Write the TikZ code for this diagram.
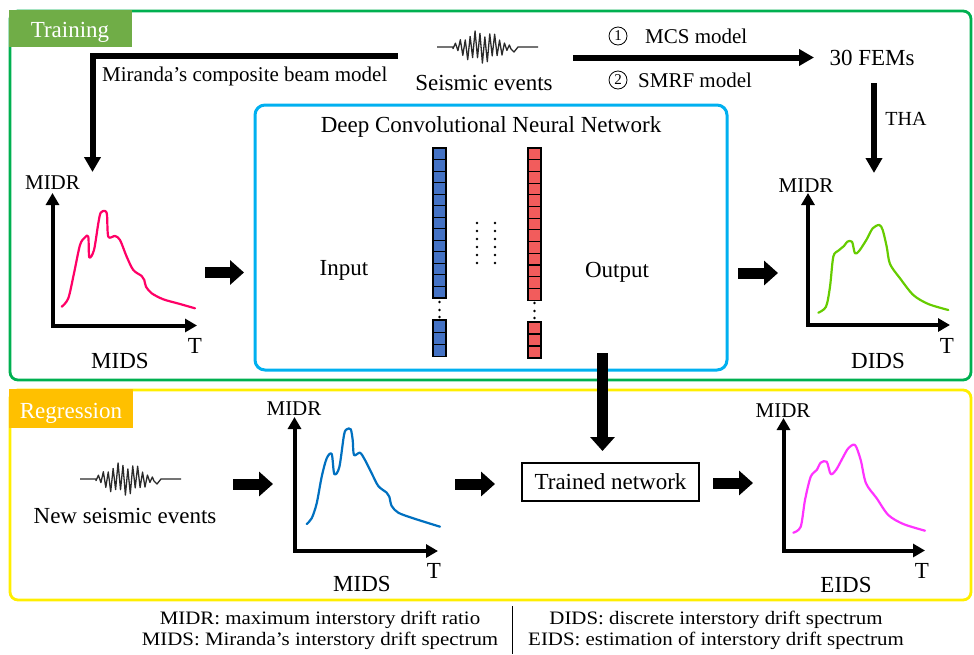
\documentclass[tikz,border=0pt]{standalone}
\usepackage{fontspec}
\setmainfont{Liberation Serif}
\newfontfamily\legendfont[FakeStretch=1.1]{Liberation Serif}
\usetikzlibrary{arrows.meta}
\definecolor{boxgreen}{HTML}{00B050}
\definecolor{tabgreen}{HTML}{70AD47}
\definecolor{boxyellow}{HTML}{FFEE00}
\definecolor{taborange}{HTML}{FFC000}
\definecolor{boxblue}{HTML}{00B0F0}
\definecolor{cellblue}{HTML}{4472C4}
\definecolor{cellred}{HTML}{F25C5C}
\definecolor{cpink}{HTML}{FF0066}
\definecolor{cgreen}{HTML}{66CC00}
\definecolor{cblue}{HTML}{0070C0}
\definecolor{cmag}{HTML}{FF33FF}
\definecolor{wavegray}{HTML}{2A2A2A}
\begin{document}
\begin{tikzpicture}[x=1pt,y=-1pt,
  txt/.style={font=\fontsize{23}{27}\selectfont, inner sep=0pt, anchor=base},
  mid/.style={font=\fontsize{21}{25}\selectfont, inner sep=0pt, anchor=base},
  leg/.style={font=\legendfont\fontsize{19}{23}\selectfont, inner sep=0pt, anchor=base},
  tabtxt/.style={font=\fontsize{23}{27}\selectfont, inner sep=0pt, anchor=base, text=white},
  fatarrow/.style={line width=6pt, line join=miter, -{Triangle[length=15pt,width=16pt]}},
  axes/.style={line width=4pt, line join=miter, {Triangle[length=12pt,width=13pt]}-{Triangle[length=12pt,width=13pt]}},
  blockarr/.style={line width=11pt, -{Triangle[length=14pt,width=24pt]}},
  spec/.style={line width=2.2pt, line join=round, line cap=round},
  cellb/.style={fill=cellblue, draw=black, line width=1.1pt},
  cellr/.style={fill=cellred, draw=black, line width=1.1pt},
  wavestyle/.style={draw=wavegray, line width=1.3pt, line join=round},
  wave/.pic={\draw[wavestyle] (-50,0) -- (-34,0) -- plot[domain=0:23, samples=24] ({-34+\x*2.45},{cos(\x*180)*(2+15*sin(\x*7.8))*(0.8+0.2*sin(\x*131))}) -- (24,2) -- (27,5) -- (31,0) -- (51,0);}
]
\useasboundingbox (0,0) rectangle (974,654);

% ---------- frames ----------
\node[draw=boxgreen, line width=2.8pt, rounded corners=8pt, minimum width=961pt, minimum height=369pt, inner sep=0pt] (trainbox) at (490.5,195.5) {};
\fill[tabgreen] (8.6,10) rectangle (132,47);
\node[tabtxt] (traintab) at (70,37) {Training};

\node[draw=boxyellow, line width=2.8pt, rounded corners=8pt, minimum width=961pt, minimum height=210pt, inner sep=0pt] (regbox) at (490.5,495) {};
\fill[taborange] (8.6,389) rectangle (133,428);
\node[tabtxt] (regtab) at (71,418) {Regression};

\node[draw=boxblue, line width=3pt, rounded corners=10pt, minimum width=472pt, minimum height=265pt, inner sep=0pt] (dcnn) at (491,237.5) {};
\node[txt] (dcnnlbl) at (491,132) {Deep Convolutional Neural Network};

% ---------- top row ----------
\pic (wave1) at (487,47) {wave};
\node[txt] (seis) at (484,90) {Seismic events};

\coordinate (mirstart) at (398,55.5);
\coordinate (mirend) at (92.5,172);
\draw[fatarrow] (mirstart) -| (mirend);
\node[mid, anchor=base west] (mirlbl) at (102,81.5) {Miranda’s composite beam model};

\coordinate (mcsstart) at (573,57.5);
\coordinate (mcsend) at (814,57.5);
\draw[fatarrow] (mcsstart) -- (mcsend);
\node[circle, draw, line width=0.8pt, minimum size=18pt, inner sep=0pt, font=\fontsize{15}{15}\selectfont] (c1) at (618,36) {1};
\node[mid, anchor=base west] (mcs) at (645,43) {MCS model};
\node[circle, draw, line width=0.8pt, minimum size=18pt, inner sep=0pt, font=\fontsize{15}{15}\selectfont] (c2) at (618,80) {2};
\node[mid, anchor=base west] (smrf) at (638,87) {SMRF model};

\node[txt] (fems) at (872,65) {30 FEMs};
\coordinate (thastart) at (874,83);
\coordinate (thaend) at (874,173);
\draw[fatarrow] (thastart) -- (thaend);
\node[font=\fontsize{20}{24}\selectfont, inner sep=0pt, anchor=base] (tha) at (906,125) {THA};

% ---------- MIDS plot (training) ----------
\draw[axes] (52.5,193) -- (52.5,325.5) -- (197,325.5);
\node[mid] (midr1) at (52.5,189) {MIDR};
\node[txt] (t1) at (195,353) {T};
\node[txt] (mids1) at (120,368) {MIDS};
\draw[spec, cpink] plot[smooth, tension=0.5] coordinates {
 (61.7,306.7) (68.3,298.3) (74,273.3) (80,245) (85,237.3) (88.3,236.7) (89.3,257.3)
 (94,250) (98.3,223.3) (100.7,212.7) (105,211) (107,215) (108.3,236.7) (115,236)
 (120,240) (126.7,256.7) (133.3,270) (141.7,276) (144.3,280) (146,286.7) (151.7,293.3)
 (163.3,299.3) (180,304) (195,308.3)};

\coordinate (ba1s) at (205,272.5);
\coordinate (ba1e) at (244,272.5);
\draw[blockarr] (ba1s) -- (ba1e);

% ---------- network ----------
\foreach \i in {0,...,12} \draw[cellb] (433,{148+\i*11.54}) rectangle ++(13,11.54);
\foreach \i in {0,...,2} \draw[cellb] (433,{320+\i*12.3}) rectangle ++(13,12.3);
\foreach \yy in {302,310,317} \fill (439.5,\yy) circle (1.3pt);
\foreach \i in {0,...,12} \draw[cellr] (528,{148+\i*11.7}) rectangle ++(13,11.7);
\foreach \i in {0,...,2} \draw[cellr] (528,{322+\i*12}) rectangle ++(13,12);
\foreach \yy in {303,311,318} \fill (534.5,\yy) circle (1.3pt);
\foreach \yy in {223,231,239,247,255,263} {\fill (477,\yy) circle (1.3pt); \fill (495,\yy) circle (1.3pt);}
\node[txt] (input) at (344,275) {Input};
\node[txt] (output) at (617,277) {Output};

\coordinate (ba2s) at (738,273);
\coordinate (ba2e) at (778,273);
\draw[blockarr] (ba2s) -- (ba2e);

% ---------- DIDS plot ----------
\draw[axes] (808,193) -- (808,325) -- (950,325);
\node[mid] (midr2) at (806,192) {MIDR};
\node[txt] (t2) at (947,353) {T};
\node[txt] (dids) at (878,368) {DIDS};
\draw[spec, cgreen] plot[smooth, tension=0.5] coordinates {
 (818.3,312.7) (826,306.7) (830,286.7) (833.3,256.7) (838.3,250.7) (844,246) (847.3,241.7)
 (852,241.7) (855,253.3) (859.3,250.7) (866.7,239.3) (872.7,228.3) (879.3,225) (882.7,230)
 (886.7,246.7) (890,264) (900,278.3) (913.3,295) (928.3,304) (948.3,310)};

% ---------- regression row ----------
\pic (wave2) at (130,479) {wave};
\node[txt] (newseis) at (125,523) {New seismic events};

\coordinate (ba3s) at (233,484);
\coordinate (ba3e) at (273,484);
\draw[blockarr] (ba3s) -- (ba3e);

\draw[axes] (294.5,417) -- (294.5,551) -- (438,551);
\node[mid] (midr3) at (294,415) {MIDR};
\node[txt] (t3) at (434,578) {T};
\node[txt] (mids2) at (362,591) {MIDS};
\draw[spec, cblue] plot[smooth, tension=0.5] coordinates {
 (306.7,524) (311.7,518.3) (316.7,503.3) (321.7,476.7) (326.7,458.3) (331.7,454) (334.3,474)
 (339.3,467.3) (344,435) (346.7,429.3) (350.7,429.3) (352.7,440) (354,455) (360,452.7)
 (365,460) (371.7,473.3) (378.3,486) (386.7,492.7) (389.3,496.7) (391.7,506) (398.3,512.7)
 (413.3,518.3) (440,526.7)};

\coordinate (ba4s) at (455,484);
\coordinate (ba4e) at (495,484);
\draw[blockarr] (ba4s) -- (ba4e);

\node[draw, line width=1.2pt, minimum width=177pt, minimum height=38pt, inner sep=0pt, font=\fontsize{23}{27}\selectfont] (trained) at (610.5,482) {Trained network};

\coordinate (vas) at (602.5,353);
\coordinate (vae) at (602.5,451);
\draw[blockarr] (vas) -- (vae);

\coordinate (ba5s) at (713,483);
\coordinate (ba5e) at (753,483);
\draw[blockarr] (ba5s) -- (ba5e);

\draw[axes] (783.5,418) -- (783.5,550.5) -- (925,550.5);
\node[mid] (midr4) at (783,417) {MIDR};
\node[txt] (t4) at (922,578) {T};
\node[txt] (eids) at (846,592) {EIDS};
\draw[spec, cmag] plot[smooth, tension=0.5] coordinates {
 (793.3,532.7) (800.7,526.7) (805,500) (810.7,476.7) (816.7,470) (820.7,462.7) (826.7,461.7)
 (830.7,474) (836,470) (843.3,456.7) (848.3,448.3) (855,445) (860.7,460) (866,483.3)
 (876.7,498.3) (888.3,515) (903.3,524) (925,530.7)};

% ---------- legend ----------
\node[leg] (leg1) at (320,624) {MIDR: maximum interstory drift ratio};
\node[leg] (leg2) at (320,645) {MIDS: Miranda’s interstory drift spectrum};
\node[leg] (leg3) at (716,624) {DIDS: discrete interstory drift spectrum};
\node[leg] (leg4) at (716,645) {EIDS: estimation of interstory drift spectrum};
\coordinate (septop) at (512,606);
\coordinate (sepbot) at (512,654);
\draw[line width=0.8pt] (septop) -- (sepbot);
\end{tikzpicture}
\end{document}
